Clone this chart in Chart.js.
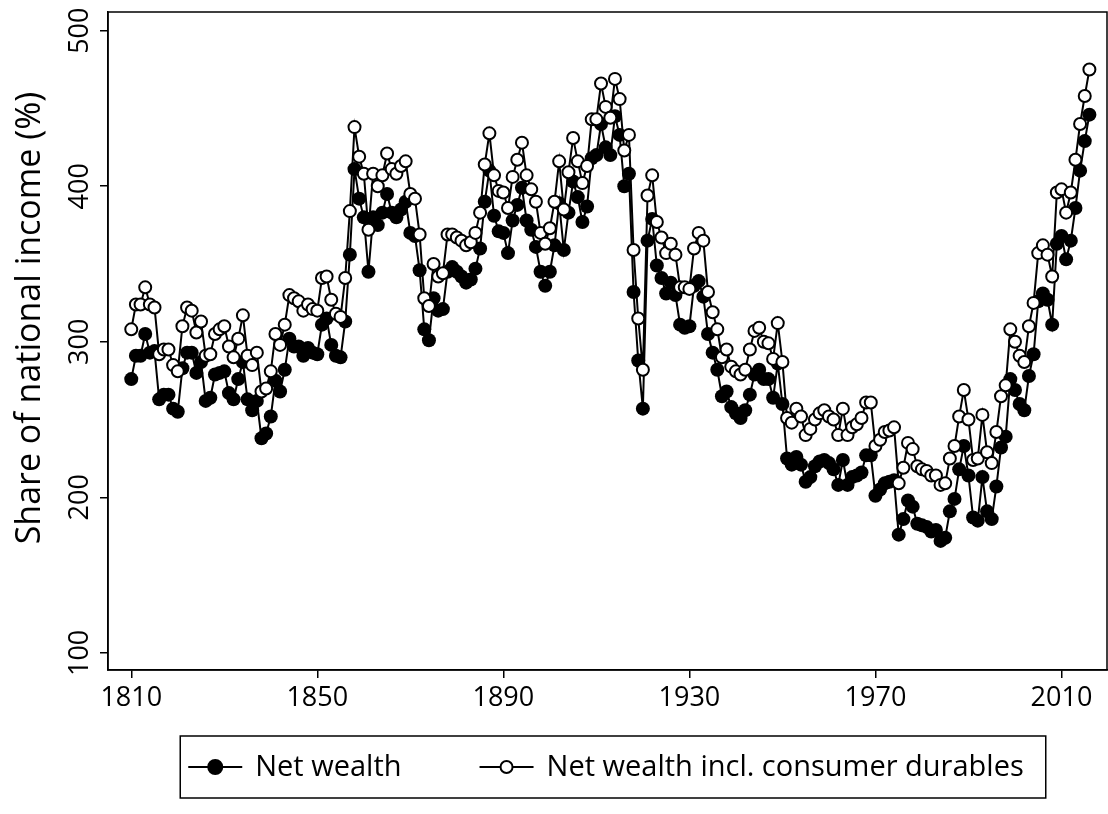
<!DOCTYPE html>
<html>
<head>
<meta charset="utf-8">
<script src="https://cdn.jsdelivr.net/npm/chart.js@4.4.1/dist/chart.umd.min.js"></script>
<style>
html,body{margin:0;padding:0;background:#fff;}
#wrap{width:1108px;height:814px;}
</style>
</head>
<body>
<div id="wrap"><canvas id="c" width="1108" height="814"></canvas></div>
<script>
const startYear = 1810;
const netWealth = [
276,291,291,305,293,294,263,266,266,257,255,283,293,293,280,287,262,264,279,280,
281,267,263,276,287,263,256,262,238,241,252,275,268,282,302,297,297,291,296,293,
292,311,315,298,291,290,313,356,411,392,380,345,380,375,383,395,383,380,385,390,
370,368,346,308,301,328,320,321,345,348,345,342,338,340,347,360,390,410,381,371,
370,357,378,388,399,378,372,361,345,336,345,362,389,359,383,403,393,377,387,418,
420,440,425,420,445,433,400,408,332,288,257,365,379,349,341,331,338,330,311,309,
310,336,339,329,305,293,282,265,268,258,254,251,256,266,279,282,276,276,264,286,
260,225,221,226,221,210,213,220,223,224,222,218,208,224,208,213,214,216,227,227,
201,205,209,210,211,176,186,198,194,183,182,181,178,179,172,174,191,199,218,233,
214,187,185,213,191,186,207,232,239,276,269,260,256,278,292,326,331,327,311,363,
368,353,365,386,410,429,446
];
const netWealthDurables = [
308,324,324,335,324,322,292,295,295,285,281,310,322,320,306,313,291,292,305,308,
310,297,290,302,317,291,285,293,268,270,281,305,298,311,330,328,326,320,324,321,
320,341,342,327,318,316,341,384,438,419,408,372,408,400,407,421,411,408,413,416,
395,392,369,328,323,350,342,344,369,369,367,365,362,364,370,383,414,434,407,397,
396,386,406,417,428,407,398,390,370,363,373,390,416,385,409,431,416,402,413,443,
443,466,451,444,469,456,423,433,359,315,282,394,407,377,367,357,363,356,335,335,
334,360,370,365,332,319,308,290,295,284,281,279,282,295,307,309,300,299,289,312,
287,251,248,257,252,240,244,250,254,256,252,250,240,257,240,245,247,251,261,261,
233,237,242,243,245,209,219,235,231,220,218,217,214,214,208,209,225,233,252,269,
250,224,225,253,229,222,242,265,272,308,300,291,287,310,325,357,362,356,342,396,
398,383,396,417,440,458,475
];
const years = netWealth.map((_, i) => startYear + i);
const xTicks = [1810, 1850, 1890, 1930, 1970, 2010];
const yTicks = [100, 200, 300, 400, 500];
const yTitle = 'Share of national income (%)';
const seriesNames = ['Net wealth', 'Net wealth incl. consumer durables'];

const FONT = '"Open Sans", "Noto Sans", sans-serif';
const FS_TICK = 27;
const FS_TITLE = 34;
const FS_LEG = 29;

const framePlugin = {
  id: 'frame',
  afterDraw(chart) {
    const ctx = chart.ctx;
    const a = chart.chartArea;
    ctx.save();
    ctx.strokeStyle = '#000';
    ctx.lineWidth = 1.5;
    ctx.strokeRect(a.left, a.top, a.right - a.left - 1, a.bottom - a.top);
    // rotated y tick labels
    const ys = chart.scales.y;
    ctx.fillStyle = '#000';
    ctx.font = FS_TICK + 'px ' + FONT;
    ctx.textAlign = 'center';
    ctx.textBaseline = 'middle';
    yTicks.forEach(v => {
      const py = ys.getPixelForValue(v);
      ctx.save();
      ctx.translate(a.left - 28, py);
      ctx.rotate(-Math.PI / 2);
      ctx.fillText(String(v), 0, 0);
      ctx.restore();
    });
    // y title
    ctx.save();
    ctx.font = FS_TITLE + 'px ' + FONT;
    ctx.translate(30, (a.top + a.bottom) / 2 - 23);
    ctx.rotate(-Math.PI / 2);
    ctx.fillText(yTitle, 0, 0);
    ctx.restore();
    // legend
    ctx.font = FS_LEG + 'px ' + FONT;
    const boxTop = a.bottom + 66, boxH = 62;
    const cy = boxTop + boxH / 2;
    const sample = 54, gap1 = 13, gap2 = 78, padL = 8, padR = 22;
    const w1 = ctx.measureText(seriesNames[0]).width;
    const w2 = ctx.measureText(seriesNames[1]).width;
    const total = padL + sample + gap1 + w1 + gap2 + sample + gap1 + w2 + padR;
    const boxLeft = 613 - total / 2;
    ctx.lineWidth = 1.5;
    ctx.strokeRect(boxLeft, boxTop, total, boxH);
    const drawSample = (x0, filled) => {
      ctx.beginPath();
      ctx.moveTo(x0, cy); ctx.lineTo(x0 + sample, cy);
      ctx.lineWidth = 2; ctx.stroke();
      ctx.beginPath();
      ctx.arc(x0 + sample / 2, cy, filled ? 7 : 6, 0, Math.PI * 2);
      ctx.fillStyle = filled ? '#000' : '#fff';
      ctx.fill(); ctx.lineWidth = 2; ctx.stroke();
    };
    let x = boxLeft + padL;
    drawSample(x, true);
    x += sample + gap1;
    ctx.fillStyle = '#000';
    ctx.textAlign = 'left';
    ctx.fillText(seriesNames[0], x, cy + 1);
    x += w1 + gap2;
    drawSample(x, false);
    x += sample + gap1;
    ctx.fillStyle = '#000';
    ctx.fillText(seriesNames[1], x, cy + 1);
    ctx.restore();
  }
};

new Chart(document.getElementById('c'), {
  type: 'line',
  data: {
    labels: years,
    datasets: [
      {
        label: seriesNames[1],
        data: netWealthDurables,
        borderColor: '#000',
        borderWidth: 2,
        pointRadius: 6,
        pointBorderWidth: 2,
        pointBackgroundColor: '#fff',
        pointBorderColor: '#000',
        tension: 0,
        fill: false
      },
      {
        label: seriesNames[0],
        data: netWealth,
        borderColor: '#000',
        borderWidth: 2,
        pointRadius: 7,
        pointBorderWidth: 0,
        pointBackgroundColor: '#000',
        pointBorderColor: '#000',
        tension: 0,
        fill: false
      }
    ]
  },
  options: {
    responsive: false,
    animation: false,
    layout: { autoPadding: false, padding: { top: 12, right: 0, left: 0, bottom: 84 } },
    plugins: { legend: { display: false }, tooltip: { enabled: false } },
    scales: {
      x: {
        type: 'linear',
        min: 1805,
        max: 2020,
        afterBuildTicks: s => { s.ticks = xTicks.map(v => ({ value: v })); },
        afterFit: s => { s.height = 60; s.paddingLeft = 0; s.paddingRight = 0; },
        grid: { drawOnChartArea: false, drawTicks: true, tickLength: 8, color: '#000', lineWidth: 1.5 },
        border: { display: true, color: '#000', width: 1.5 },
        ticks: { color: '#000', font: { family: FONT, size: FS_TICK }, padding: 4, maxRotation: 0, callback: v => String(v) }
      },
      y: {
        type: 'linear',
        min: 89,
        max: 512,
        afterBuildTicks: s => { s.ticks = yTicks.map(v => ({ value: v })); },
        afterFit: s => { s.width = 108; s.paddingTop = 0; s.paddingBottom = 0; },
        grid: { drawOnChartArea: false, drawTicks: true, tickLength: 8, color: '#000', lineWidth: 1.5 },
        border: { display: true, color: '#000', width: 1.5 },
        ticks: { display: false }
      }
    }
  },
  plugins: [framePlugin]
});
</script>
</body>
</html>
